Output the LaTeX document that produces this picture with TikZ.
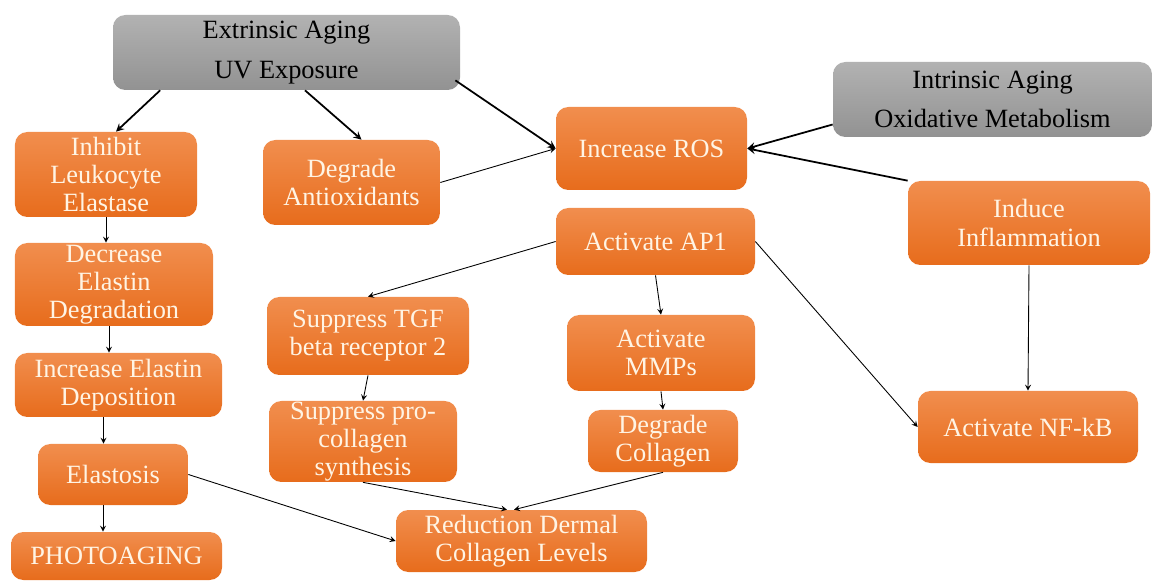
\documentclass[tikz,border=0pt]{standalone}
\usepackage{fontspec}
\setmainfont{Liberation Serif}
\definecolor{orangetop}{RGB}{241,142,78}
\definecolor{orangebot}{RGB}{231,108,28}
\definecolor{graytop}{RGB}{178,178,178}
\definecolor{graybot}{RGB}{146,146,146}
\definecolor{boxtext}{RGB}{255,244,228}
\begin{document}
\begin{tikzpicture}[font=\fontsize{15}{16}\selectfont,>=stealth,
  box/.style={rounded corners=7pt,top color=orangetop,bottom color=orangebot,text=boxtext,align=center,inner sep=0pt},
  cause/.style={rounded corners=7pt,top color=graytop,bottom color=graybot,align=center,inner sep=0pt},
  link/.style={->,line width=0.5pt},
  mainlink/.style={->,line width=1pt}]
\useasboundingbox (0,0) rectangle (23.06,11.6);
\node[cause,minimum width=6.94cm,minimum height=1.5cm] (ext) at (5.73,10.55) {Extrinsic Aging\\[6.5pt]UV Exposure};
\node[cause,minimum width=6.38cm,minimum height=1.5cm] (intr) at (19.85,9.61) {Intrinsic Aging\\[6.5pt]Oxidative Metabolism};
\node[box,minimum width=3.82cm,minimum height=1.66cm] (ros) at (13.03,8.63) {Increase ROS};
\node[box,minimum width=3.64cm,minimum height=1.7cm] (inh) at (2.12,8.11) {Inhibit\\Leukocyte\\Elastase};
\node[box,minimum width=3.54cm,minimum height=1.7cm] (dant) at (7.03,7.95) {Degrade\\Antioxidants};
\node[box,minimum width=3.98cm,minimum height=1.34cm] (ap1) at (13.11,6.77) {Activate AP1};
\node[box,minimum width=4.84cm,minimum height=1.68cm] (infl) at (20.58,7.14) {Induce\\Inflammation};
\node[box,minimum width=3.96cm,minimum height=1.66cm] (dec) at (2.28,5.91) {Decrease\\Elastin\\Degradation};
\node[box,minimum width=4.04cm,minimum height=1.56cm] (tgf) at (7.36,4.88) {Suppress TGF\\beta receptor 2};
\node[box,minimum width=3.76cm,minimum height=1.52cm] (mmp) at (13.22,4.54) {Activate\\MMPs};
\node[box,minimum width=4.14cm,minimum height=1.28cm] (incel) at (2.37,3.9) {Increase Elastin\\Deposition};
\node[box,minimum width=3.76cm,minimum height=1.62cm] (pro) at (7.26,2.77) {Suppress pro-\\collagen\\synthesis};
\node[box,minimum width=3.0cm,minimum height=1.24cm] (degc) at (13.26,2.78) {Degrade\\Collagen};
\node[box,minimum width=4.4cm,minimum height=1.44cm] (nfkb) at (20.56,3.06) {Activate NF-kB};
\node[box,minimum width=3.0cm,minimum height=1.22cm] (elast) at (2.26,2.11) {Elastosis};
\node[box,minimum width=5.02cm,minimum height=1.24cm] (red) at (10.43,0.78) {Reduction Dermal\\Collagen Levels};
\node[box,minimum width=4.22cm,minimum height=0.96cm] (photo) at (2.33,0.48) {PHOTOAGING};
\draw[mainlink] ([xshift=0.95cm]ext.south west) -- ([xshift=0.2cm]inh.north);
\draw[mainlink] ([xshift=0.37cm]ext.south) -- ([xshift=0.2cm]dant.north);
\draw[mainlink] ([xshift=-0.1cm,yshift=0.2cm]ext.south east) -- (ros.west);
\draw[link] (dant.east) -- (ros.west);
\draw[mainlink] ([yshift=-0.5cm]intr.west) -- (ros.east);
\draw[mainlink] (infl.north west) -- (ros.east);
\draw[link] (inh.south) -- (inh.south |- dec.north);
\draw[link] ([xshift=-0.1cm]dec.south) -- ([xshift=-0.1cm]dec.south |- incel.north);
\draw[link] ([xshift=-0.3cm]incel.south) -- ([xshift=-0.3cm]incel.south |- elast.north);
\draw[link] ([xshift=-0.2cm]elast.south) -- ([xshift=-0.2cm]elast.south |- photo.north);
\draw[link] (elast.east) -- (red.west);
\draw[link] (ap1.west) -- (tgf.north);
\draw[link] (ap1.south) -- (mmp.north);
\draw[link] (ap1.east) -- (nfkb.west);
\draw[link] (infl.south) -- (nfkb.north);
\draw[link] (tgf.south) -- (pro.north);
\draw[link] (mmp.south) -- (degc.north);
\draw[link] (pro.south) -- ([xshift=-0.29cm]red.north);
\draw[link] (degc.south) -- ([xshift=-0.15cm]red.north);
\end{tikzpicture}
\end{document}
